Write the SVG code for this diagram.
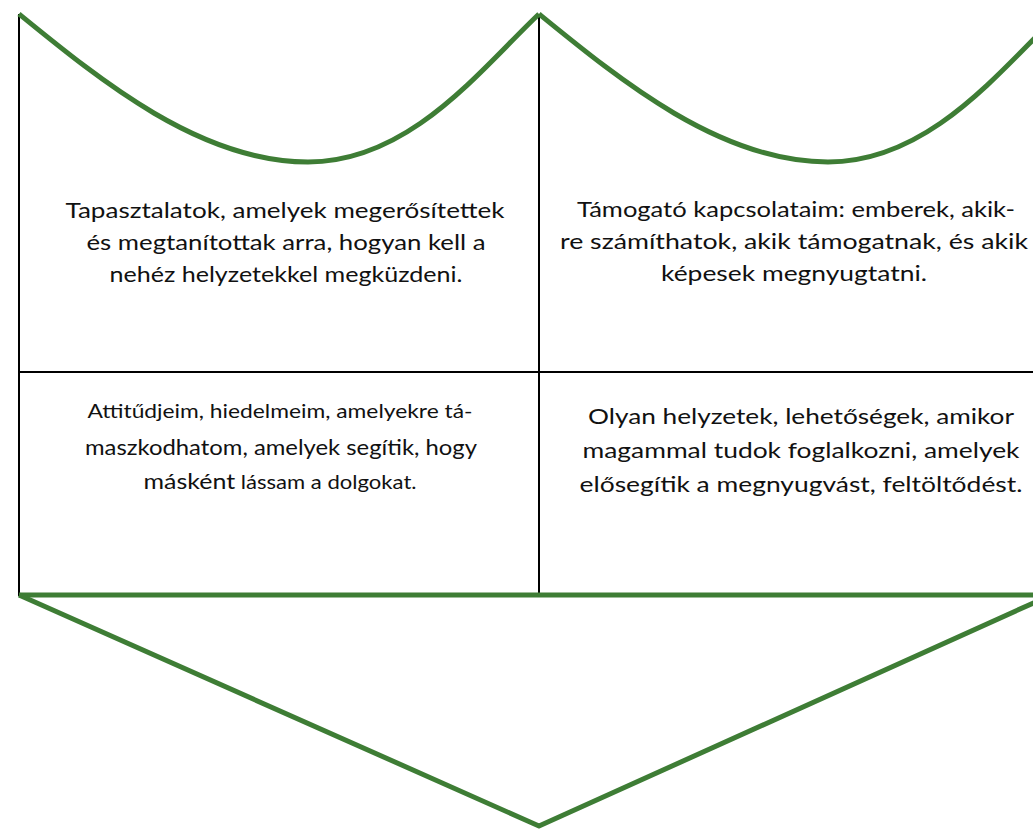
<svg xmlns="http://www.w3.org/2000/svg" width="1033" height="829" viewBox="0 0 1033 829">
<style>
.g{fill:none;stroke:#3e7d35;stroke-width:5;stroke-linejoin:round}
.k{fill:none;stroke:#000;stroke-width:2}
.t{font-family:Lato,"Open Sans","Liberation Sans",sans-serif;font-size:21.5px;fill:#111;text-anchor:middle}
.s{font-size:19px}
</style>
<rect width="1033" height="829" fill="#fff"/>
<g id="frame">
<line class="k" x1="19" y1="14" x2="19" y2="596"/>
<line class="k" x1="539" y1="14" x2="539" y2="595"/>
<line class="k" x1="19" y1="372" x2="1033" y2="372"/>
</g>
<g id="green">
<path class="g" d="M19,14 C100,80 200,162 308,162 C410,162 480,70 539,14"/>
<path class="g" d="M539,14 C620,80 720,162 828,162 C930,162 1000,70 1059,14"/>
<line class="g" x1="19" y1="595" x2="1033" y2="595"/>
<path class="g" d="M19,595 L539,826 L1040,600"/>
</g>
<g id="cell-top-left">
<text class="t" x="285" y="218" textLength="439" lengthAdjust="spacingAndGlyphs">Tapasztalatok, amelyek megerősítettek</text>
<text class="t" x="286" y="250" textLength="399" lengthAdjust="spacingAndGlyphs">és megtanítottak arra, hogyan kell a</text>
<text class="t" x="286" y="282" textLength="353" lengthAdjust="spacingAndGlyphs">nehéz helyzetekkel megküzdeni.</text>
</g>
<g id="cell-top-right">
<text class="t" x="796" y="217" textLength="438" lengthAdjust="spacingAndGlyphs">Támogató kapcsolataim: emberek, akik-</text>
<text class="t" x="794" y="249" textLength="468" lengthAdjust="spacingAndGlyphs">re számíthatok, akik támogatnak, és akik</text>
<text class="t" x="794" y="281" textLength="266" lengthAdjust="spacingAndGlyphs">képesek megnyugtatni.</text>
</g>
<g id="cell-bottom-left">
<text class="t s" x="280" y="418" textLength="385" lengthAdjust="spacingAndGlyphs">Attitűdjeim, hiedelmeim, amelyekre tá-</text>
<text class="t" x="281" y="455" textLength="392" lengthAdjust="spacingAndGlyphs">maszkodhatom, amelyek segítik, hogy</text>
<text class="t" x="280" y="489" textLength="273" lengthAdjust="spacingAndGlyphs"><tspan>másként</tspan><tspan class="s"> lássam a dolgokat.</tspan></text>
</g>
<g id="cell-bottom-right">
<text class="t" x="801" y="424" textLength="426" lengthAdjust="spacingAndGlyphs">Olyan helyzetek, lehetőségek, amikor</text>
<text class="t" x="801" y="458" textLength="437" lengthAdjust="spacingAndGlyphs">magammal tudok foglalkozni, amelyek</text>
<text class="t" x="801" y="492" textLength="443" lengthAdjust="spacingAndGlyphs">elősegítik a megnyugvást, feltöltődést.</text>
</g>
</svg>
